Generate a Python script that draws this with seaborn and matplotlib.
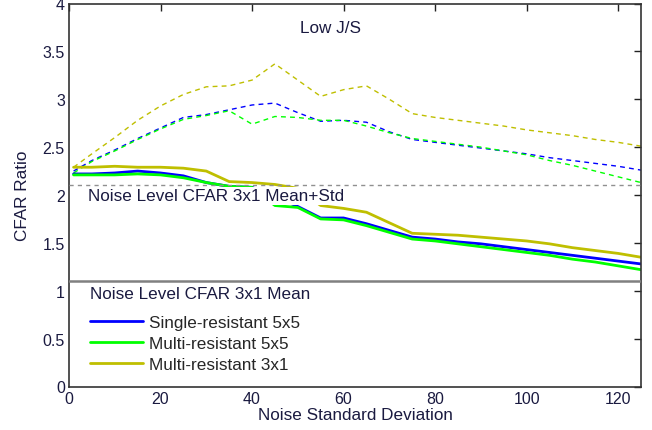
import matplotlib
matplotlib.use("Agg")
import matplotlib.pyplot as plt
import seaborn as sns
import pandas as pd
from matplotlib.lines import Line2D

# Noise standard deviation sample points
noise_std = [1, 5, 10, 15, 20, 25, 30, 35, 40, 45, 50, 55, 60, 65,
             70, 75, 80, 85, 90, 95, 100, 105, 110, 115, 120, 125]

# CFAR ratio, low J/S (dashed)
single_5x5_low = [2.25, 2.36, 2.47, 2.59, 2.70, 2.81, 2.84, 2.89, 2.94, 2.96, 2.86, 2.77, 2.78,
                  2.76, 2.66, 2.58, 2.55, 2.52, 2.49, 2.46, 2.43, 2.39, 2.36, 2.33, 2.30, 2.26]
multi_5x5_low = [2.23, 2.35, 2.46, 2.58, 2.69, 2.79, 2.83, 2.88, 2.74, 2.82, 2.81, 2.78, 2.78,
                 2.72, 2.65, 2.59, 2.56, 2.53, 2.50, 2.46, 2.42, 2.36, 2.31, 2.25, 2.19, 2.13]
multi_3x1_low = [2.29, 2.43, 2.60, 2.78, 2.93, 3.05, 3.13, 3.14, 3.20, 3.37, 3.20, 3.03, 3.10,
                 3.14, 3.00, 2.85, 2.81, 2.78, 2.75, 2.72, 2.68, 2.65, 2.62, 2.58, 2.55, 2.51]

# CFAR ratio (solid)
single_5x5 = [2.22, 2.22, 2.23, 2.25, 2.23, 2.20, 2.13, 2.09, 2.08, 1.98, 1.88, 1.76, 1.76,
              1.70, 1.63, 1.56, 1.54, 1.51, 1.49, 1.46, 1.43, 1.40, 1.37, 1.34, 1.31, 1.28]
multi_5x5 = [2.21, 2.21, 2.21, 2.22, 2.21, 2.18, 2.13, 2.09, 2.08, 1.89, 1.87, 1.75, 1.74,
             1.68, 1.61, 1.54, 1.52, 1.49, 1.46, 1.43, 1.40, 1.37, 1.33, 1.30, 1.26, 1.22]
multi_3x1 = [2.29, 2.29, 2.30, 2.29, 2.29, 2.28, 2.25, 2.14, 2.13, 2.11, 2.07, 1.89, 1.86,
             1.82, 1.71, 1.60, 1.59, 1.58, 1.56, 1.54, 1.52, 1.49, 1.45, 1.42, 1.39, 1.35]

series_names = ["Single-resistant 5x5", "Multi-resistant 5x5", "Multi-resistant 3x1"]
series_colors = ["#0000ff", "#00ff00", "#bfbf00"]

# Reference noise levels
mean_std_level = 2.1
mean_level = 1.1

sns.set_style("white")
plt.rcParams["font.family"] = ["Liberation Sans", "DejaVu Sans"]

solid = pd.DataFrame({
    "x": noise_std * 3,
    "y": single_5x5 + multi_5x5 + multi_3x1,
    "series": sum([[n] * len(noise_std) for n in series_names], []),
})
dashed = pd.DataFrame({
    "x": noise_std * 3,
    "y": single_5x5_low + multi_5x5_low + multi_3x1_low,
    "series": sum([[n] * len(noise_std) for n in series_names], []),
})
palette = dict(zip(series_names, series_colors))

fig = plt.figure(figsize=(6.52, 4.31), dpi=100)
ax = fig.add_axes([69 / 652, 1 - 387.5 / 431, 572 / 652, 383 / 431])

sns.lineplot(data=dashed, x="x", y="y", hue="series", palette=palette, ax=ax,
             linewidth=1.0, dashes=False, legend=False, zorder=2)
for line in ax.lines:
    line.set_dashes((3.5, 3))
sns.lineplot(data=solid, x="x", y="y", hue="series", palette=palette, ax=ax,
             linewidth=2.0, legend=False, zorder=2)

ax.axhline(mean_std_level, color="#909090", linewidth=1.0, dashes=(3, 3), zorder=4)
ax.axhline(mean_level, color="#808080", linewidth=1.8, zorder=4)

ax.text(4.2, 1.99, "Noise Level CFAR 3x1 Mean+Std", fontsize=12.3, color="#1a1a40",
        ha="left", va="center", zorder=3,
        bbox=dict(facecolor="white", edgecolor="none", pad=1.0))
ax.text(4.6, 0.975, "Noise Level CFAR 3x1 Mean", fontsize=12.3, color="#1a1a40",
        ha="left", va="center")
ax.text(50.5, 3.75, "Low J/S", fontsize=12.3, color="#1a1a40", ha="left", va="center")

handles = [Line2D([], [], color=c, linewidth=2.0) for c in series_colors]
ax.legend(handles, series_names, loc="upper left", bbox_to_anchor=(0.037, 0.186),
          frameon=False, fontsize=12.3, handlelength=3.1, handletextpad=0.35,
          labelspacing=0.33, borderpad=0, borderaxespad=0)

ax.set_xlim(0, 125)
ax.set_ylim(0, 4)
ax.set_xticks(range(0, 121, 20))
ax.set_yticks([0, 0.5, 1, 1.5, 2, 2.5, 3, 3.5, 4])
ax.set_yticklabels(["0", "0.5", "1", "1.5", "2", "2.5", "3", "3.5", "4"])
ax.tick_params(direction="in", length=5, width=1, top=True, right=True,
               labelsize=11.5, colors="#222222", labelcolor="#1a1a40", pad=3)
for sp in ax.spines.values():
    sp.set_color("#333333")
    sp.set_linewidth(1.2)
ax.set_xlabel("Noise Standard Deviation", fontsize=12.3, color="#1a1a40", labelpad=1)
ax.set_ylabel("CFAR Ratio", fontsize=12.3, color="#1a1a40", labelpad=9)

fig.savefig("out.png", dpi=100)
